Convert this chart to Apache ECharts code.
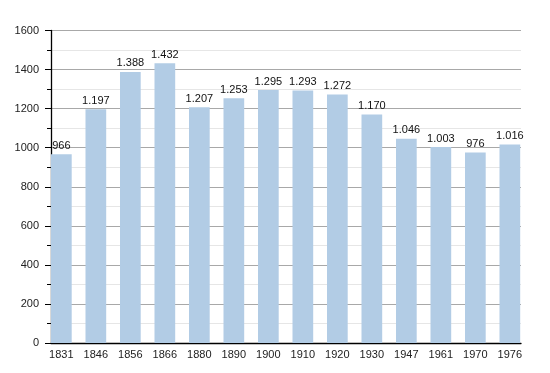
<!DOCTYPE html>
<html>
<head>
<meta charset="utf-8">
<script src="https://cdn.jsdelivr.net/npm/echarts@6/dist/echarts.min.js"></script>
<style>html,body{margin:0;padding:0;background:#fff}#c{width:550px;height:373px}</style>
</head>
<body>
<div id="c"></div>
<script>
const years = ['1831','1846','1856','1866','1880','1890','1900','1910','1920','1930','1947','1961','1970','1976'];
const population = [966,1197,1388,1432,1207,1253,1295,1293,1272,1170,1046,1003,976,1016];
const yTicks = [0,200,400,600,800,1000,1200,1400,1600];

const fmt = v => { const s = String(v); return s.length > 3 ? s.slice(0, s.length-3) + '.' + s.slice(-3) : s; };
const font = 'Liberation Sans, Arial, sans-serif';

const chart = echarts.init(document.getElementById('c'), null, {renderer:'canvas'});
chart.setOption({
  animation: false,
  backgroundColor: '#fff',
  grid: [
    {left: 51, right: 29, top: 30.5, bottom: 30, containLabel: false},
    {left: 44.1, right: 22.9, top: 30.5, bottom: 30, containLabel: false}
  ],
  xAxis: [
    {gridIndex: 0, type: 'category', data: years, boundaryGap: true,
     axisLine: {show: true, lineStyle: {color: '#000', width: 1.3}},
     axisTick: {show: false}, axisLabel: {show: false}, splitLine: {show: false}},
    {gridIndex: 1, type: 'category', data: years, boundaryGap: true,
     axisLine: {show: false}, axisTick: {show: false},
     axisLabel: {show: true, color: '#222', fontSize: 11, fontFamily: font, margin: 6}}
  ],
  yAxis: [
    {gridIndex: 0, type: 'value', min: yTicks[0], max: yTicks[yTicks.length-1], interval: 200,
     axisLine: {show: true, lineStyle: {color: '#000', width: 1.3}},
     axisTick: {show: true, length: 6, lineStyle: {color: '#000'}},
     minorTick: {show: true, splitNumber: 2, length: 4, lineStyle: {color: '#000'}},
     axisLabel: {color: '#222', fontSize: 11, fontFamily: font, margin: 12, formatter: v => String(v)},
     splitLine: {show: true, lineStyle: {color: '#a8a8a8', width: 1}},
     minorSplitLine: {show: true, lineStyle: {color: '#e6e6e6', width: 1}}},
    {gridIndex: 1, type: 'value', min: yTicks[0], max: yTicks[yTicks.length-1], interval: 200,
     show: false, splitLine: {show: false}}
  ],
  series: [{
    type: 'bar', xAxisIndex: 1, yAxisIndex: 1, data: population,
    barWidth: 20.7,
    itemStyle: {color: '#b2cce5'},
    label: {show: true, position: 'top', distance: 3, color: '#111', fontSize: 11, fontFamily: font,
            formatter: p => fmt(p.value)}
  }]
});
</script>
</body>
</html>
